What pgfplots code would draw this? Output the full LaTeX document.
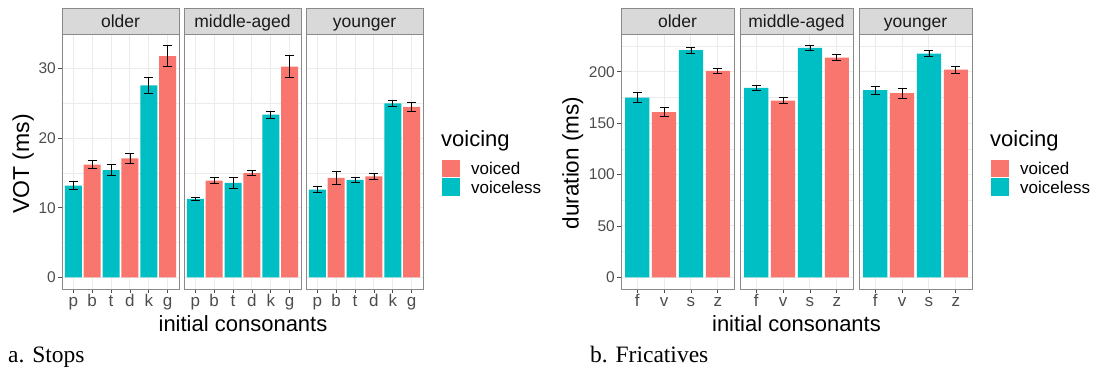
\documentclass[border=0pt]{standalone}
\usepackage{pgfplots}
\pgfplotsset{compat=1.18}
\usepackage{pgfplotstable}
\usepackage{fontspec}
\setmainfont{Liberation Sans}
\newfontfamily\capfont{Liberation Serif}

\definecolor{voicedc}{HTML}{F8766D}
\definecolor{voicelessc}{HTML}{00BFC4}
\definecolor{gridc}{HTML}{EBEBEB}
\definecolor{framec}{HTML}{8A8A8A}
\definecolor{stripc}{HTML}{D9D9D9}
\definecolor{tickc}{HTML}{4D4D4D}
\definecolor{textc}{HTML}{1A1A1A}

% ---- Stops: VOT (ms), mean and standard error ----
\pgfplotstableread{
x y e
0 13.2 0.60
2 15.4 0.80
4 27.6 1.20
}\stOldVl
\pgfplotstableread{
x y e
1 16.2 0.55
3 17.1 0.75
5 31.8 1.50
}\stOldVd
\pgfplotstableread{
x y e
0 11.3 0.20
2 13.6 0.80
4 23.4 0.50
}\stMidVl
\pgfplotstableread{
x y e
1 13.9 0.40
3 15.0 0.40
5 30.3 1.60
}\stMidVd
\pgfplotstableread{
x y e
0 12.6 0.45
2 14.0 0.35
4 25.0 0.45
}\stYngVl
\pgfplotstableread{
x y e
1 14.3 1.00
3 14.5 0.45
5 24.5 0.65
}\stYngVd

% ---- Fricatives: duration (ms), mean and standard error ----
\pgfplotstableread{
x y e
0 175.0 4.5
2 221.0 2.8
}\frOldVl
\pgfplotstableread{
x y e
1 160.7 4.3
3 200.9 2.6
}\frOldVd
\pgfplotstableread{
x y e
0 184.4 2.8
2 223.2 2.3
}\frMidVl
\pgfplotstableread{
x y e
1 172.0 3.2
3 213.8 2.7
}\frMidVd
\pgfplotstableread{
x y e
0 182.1 4.0
2 217.7 2.9
}\frYngVl
\pgfplotstableread{
x y e
1 179.2 4.7
3 202.1 3.4
}\frYngVd

\pgfplotsset{
  facet/.style={
    scale only axis, height=255pt,
    ymajorgrids, yminorgrids, xmajorgrids,
    major grid style={gridc, line width=1pt},
    minor grid style={gridc, line width=0.5pt},
    axis line style={framec, line width=0.9pt},
    tick align=outside, xtick pos=bottom, ytick pos=left,
    major tick length=4pt, minor tick length=0pt,
    tick style={tickc, line width=0.8pt},
    ybar, bar width=0.9, bar shift=0pt,
    xmin=-0.6,
    xticklabel style={font=\fontsize{17}{17}\selectfont, text=tickc,
      inner sep=1pt, text height=12pt, text depth=3.5pt},
    yticklabel style={font=\fontsize{15.5}{15.5}\selectfont, text=tickc, inner sep=2pt},
    /pgf/number format/assume math mode=true,
  },
  stops/.style={facet, width=117pt, xmax=5.6,
    xtick={0,...,5}, xticklabels={p,b,t,d,k,g},
    ymin=-1.665, ymax=34.97, ytick={0,10,20,30}, minor ytick={5,15,25,35}},
  frics/.style={facet, width=113pt, xmax=3.6,
    xtick={0,...,3}, xticklabels={f,v,s,z},
    ymin=-11.3, ymax=236.8, ytick={0,50,100,150,200}, minor ytick={25,75,125,175,225}},
  inner/.style={yticklabels={}, every y tick/.append style={draw=none}},
  errs/.style={error bars/.cd, y dir=both, y explicit, error mark=|,
    error bar style={black, line width=0.8pt},
    error mark options={black, line width=0.8pt, mark size=4.5pt}},
  vl/.style={fill=voicelessc, draw=none, errs},
  vd/.style={fill=voicedc, draw=none, errs},
}

\begin{document}
\begin{tikzpicture}
\useasboundingbox (0pt,0pt) rectangle (1094pt,-372pt);

% ================= a. Stops =================
\begin{axis}[stops, at={(62pt,-34pt)}, anchor=north west]
  \addplot[vl] table[x=x, y=y, y error=e] {\stOldVl};
  \addplot[vd] table[x=x, y=y, y error=e] {\stOldVd};
\end{axis}
\begin{axis}[stops, inner, at={(184pt,-34pt)}, anchor=north west]
  \addplot[vl] table[x=x, y=y, y error=e] {\stMidVl};
  \addplot[vd] table[x=x, y=y, y error=e] {\stMidVd};
\end{axis}
\begin{axis}[stops, inner, at={(306pt,-34pt)}, anchor=north west]
  \addplot[vl] table[x=x, y=y, y error=e] {\stYngVl};
  \addplot[vd] table[x=x, y=y, y error=e] {\stYngVd};
\end{axis}

% ================= b. Fricatives =================
\begin{axis}[frics, at={(621pt,-34pt)}, anchor=north west]
  \addplot[vl] table[x=x, y=y, y error=e] {\frOldVl};
  \addplot[vd] table[x=x, y=y, y error=e] {\frOldVd};
\end{axis}
\begin{axis}[frics, inner, at={(740pt,-34pt)}, anchor=north west]
  \addplot[vl] table[x=x, y=y, y error=e] {\frMidVl};
  \addplot[vd] table[x=x, y=y, y error=e] {\frMidVd};
\end{axis}
\begin{axis}[frics, inner, at={(859pt,-34pt)}, anchor=north west]
  \addplot[vl] table[x=x, y=y, y error=e] {\frYngVl};
  \addplot[vd] table[x=x, y=y, y error=e] {\frYngVd};
\end{axis}

% facet strips
\foreach \x/\lab in {62/older,184/middle-aged,306/younger}{
  \draw[fill=stripc, draw=framec, line width=0.9pt] (\x pt,-8pt) rectangle ++(117pt,-26pt);
  \node[anchor=base, inner sep=0pt, text=textc, font=\fontsize{17.5}{17.5}\selectfont]
    at (\x pt+58.5pt,-27.5pt) {\lab};
}
\foreach \x/\lab in {621/older,740/middle-aged,859/younger}{
  \draw[fill=stripc, draw=framec, line width=0.9pt] (\x pt,-8pt) rectangle ++(113pt,-26pt);
  \node[anchor=base, inner sep=0pt, text=textc, font=\fontsize{17.5}{17.5}\selectfont]
    at (\x pt+56.5pt,-27.5pt) {\lab};
}

% axis titles
\node[rotate=90, anchor=base, inner sep=0pt, font=\fontsize{23}{23}\selectfont] at (29pt,-164pt) {VOT (ms)};
\node[rotate=90, anchor=base, inner sep=0pt, font=\fontsize{22.5}{22.5}\selectfont] at (578.5pt,-163pt) {duration (ms)};
\node[anchor=base, inner sep=0pt, font=\fontsize{22}{22}\selectfont] at (243pt,-331pt) {initial consonants};
\node[anchor=base, inner sep=0pt, font=\fontsize{22}{22}\selectfont] at (796.5pt,-331pt) {initial consonants};

% legends
\foreach \lx in {441,990}{
  \node[anchor=base west, inner sep=0pt, font=\fontsize{22}{22}\selectfont] at (\lx pt,-146pt) {voicing};
  \fill[voicedc] (\lx pt+1pt,-159.5pt) rectangle ++(17.5pt,-17.5pt);
  \fill[voicelessc] (\lx pt+1pt,-178pt) rectangle ++(17.5pt,-17.5pt);
  \node[anchor=base west, inner sep=0pt, font=\fontsize{17}{17}\selectfont] at (\lx pt+30pt,-174.5pt) {voiced};
  \node[anchor=base west, inner sep=0pt, font=\fontsize{17}{17}\selectfont] at (\lx pt+30pt,-193.5pt) {voiceless};
}

% captions
\node[anchor=base west, inner sep=0pt, font=\capfont\fontsize{23.5}{23.5}\selectfont] at (8pt,-362pt) {a. Stops};
\node[anchor=base west, inner sep=0pt, font=\capfont\fontsize{23.5}{23.5}\selectfont] at (590pt,-362pt) {b. Fricatives};
\end{tikzpicture}
\end{document}
